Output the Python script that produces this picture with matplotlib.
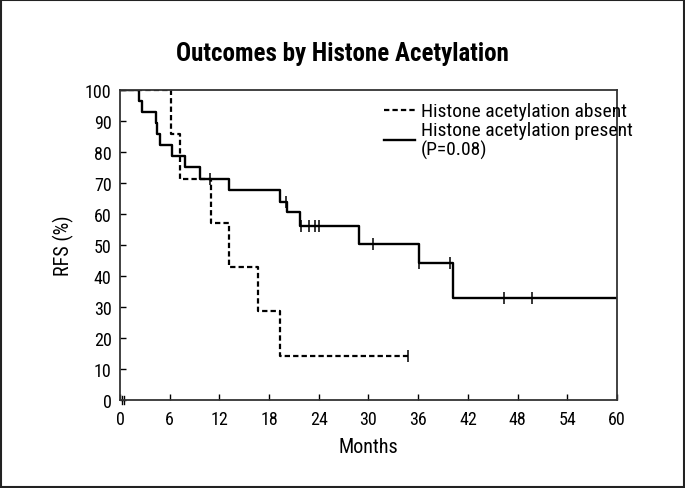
import matplotlib
matplotlib.use('Agg')
import matplotlib.pyplot as plt
from matplotlib.patches import Rectangle
from matplotlib.lines import Line2D

plt.rcParams['font.family'] = ['Roboto Condensed', 'DejaVu Sans']

#------------------------------------------------------------------------------
# Data
#------------------------------------------------------------------------------
absent_t = [0, 6.2, 7.2, 11.0, 13.2, 16.7, 19.3, 34.8]
absent_s = [100, 85.7, 71.4, 57.1, 42.9, 28.6, 14.3, 14.3]
absent_cens_t = [34.8]
absent_cens_s = [14.3]

present_t = [0, 2.3, 2.7, 4.3, 4.5, 4.8, 6.3, 7.9, 9.6, 13.2, 19.3, 20.2,
             21.7, 28.9, 36.1, 40.2, 60]
present_s = [100, 96.4, 92.9, 89.3, 85.7, 82.1, 78.6, 75.0, 71.4, 67.9, 64.0,
             60.5, 56.2, 50.4, 44.1, 33.0, 33.0]
present_cens_t = [10.9, 20.0, 21.9, 22.8, 23.5, 24.0, 30.5, 36.1, 39.8, 46.3, 49.8]
present_cens_s = [71.4, 64.0, 56.2, 56.2, 56.2, 56.2, 50.4, 44.1, 44.1, 33.0, 33.0]

xticks = list(range(0, 61, 6))
yticks = list(range(0, 101, 10))

dash = (0, (2.4, 1.4))

#------------------------------------------------------------------------------
# Plot
#------------------------------------------------------------------------------
fig = plt.figure(figsize=(6.85, 4.89), dpi=100)
ax = fig.add_axes([0.1752, 0.18, 0.7255, 0.6339])

ax.step(absent_t, absent_s, where='post', color='black', lw=1.6, linestyle=dash)
ax.plot(absent_cens_t, absent_cens_s, ls='none', marker='|', ms=8,
        mew=1.1, color='black')
ax.step(present_t, present_s, where='post', color='black', lw=1.7)
ax.plot(present_cens_t, present_cens_s, ls='none', marker='|', ms=8,
        mew=1.1, color='black')

ax.set_xlim(0, 60)
ax.set_ylim(0, 100)
ax.set_xticks(xticks)
ax.set_yticks(yticks)
ax.tick_params(direction='in', length=4, width=1, labelsize=13)
ax.tick_params(axis='y', pad=6)
ax.tick_params(axis='x', pad=7)
for s in ax.spines.values():
    s.set_linewidth(1.3)
    s.set_color('#333333')

# axis break mark at origin
for xb in [0.25, 0.5]:
    ax.plot([xb, xb], [-1.3, 1.3], color='black', lw=1.0, clip_on=False)

ax.set_xlabel('Months', fontsize=14.5, labelpad=7)
ax.set_ylabel('RFS (%)', fontsize=14.5, labelpad=8)
fig.suptitle('Outcomes by Histone Acetylation', fontsize=18, fontweight='bold',
             x=0.5, y=0.889, va='center')

handles = [Line2D([], [], color='black', lw=1.6, linestyle=dash),
           Line2D([], [], color='black', lw=1.7)]
labels = ['Histone acetylation absent', 'Histone acetylation present\n(P=0.08)']
leg = ax.legend(handles, labels, loc='upper left', frameon=False, fontsize=14,
                handlelength=1.6, handletextpad=0.3, labelspacing=0.05,
                bbox_to_anchor=(0.531, 0.96), borderaxespad=0, borderpad=0)
for t in leg.get_texts():
    t.set_linespacing(1.0)

# outer border
fig.patches.append(Rectangle((0.002, 0.003), 0.996, 0.994, transform=fig.transFigure,
                             fill=False, edgecolor='#222222', lw=1.5))

fig.savefig('out.png', dpi=100)
